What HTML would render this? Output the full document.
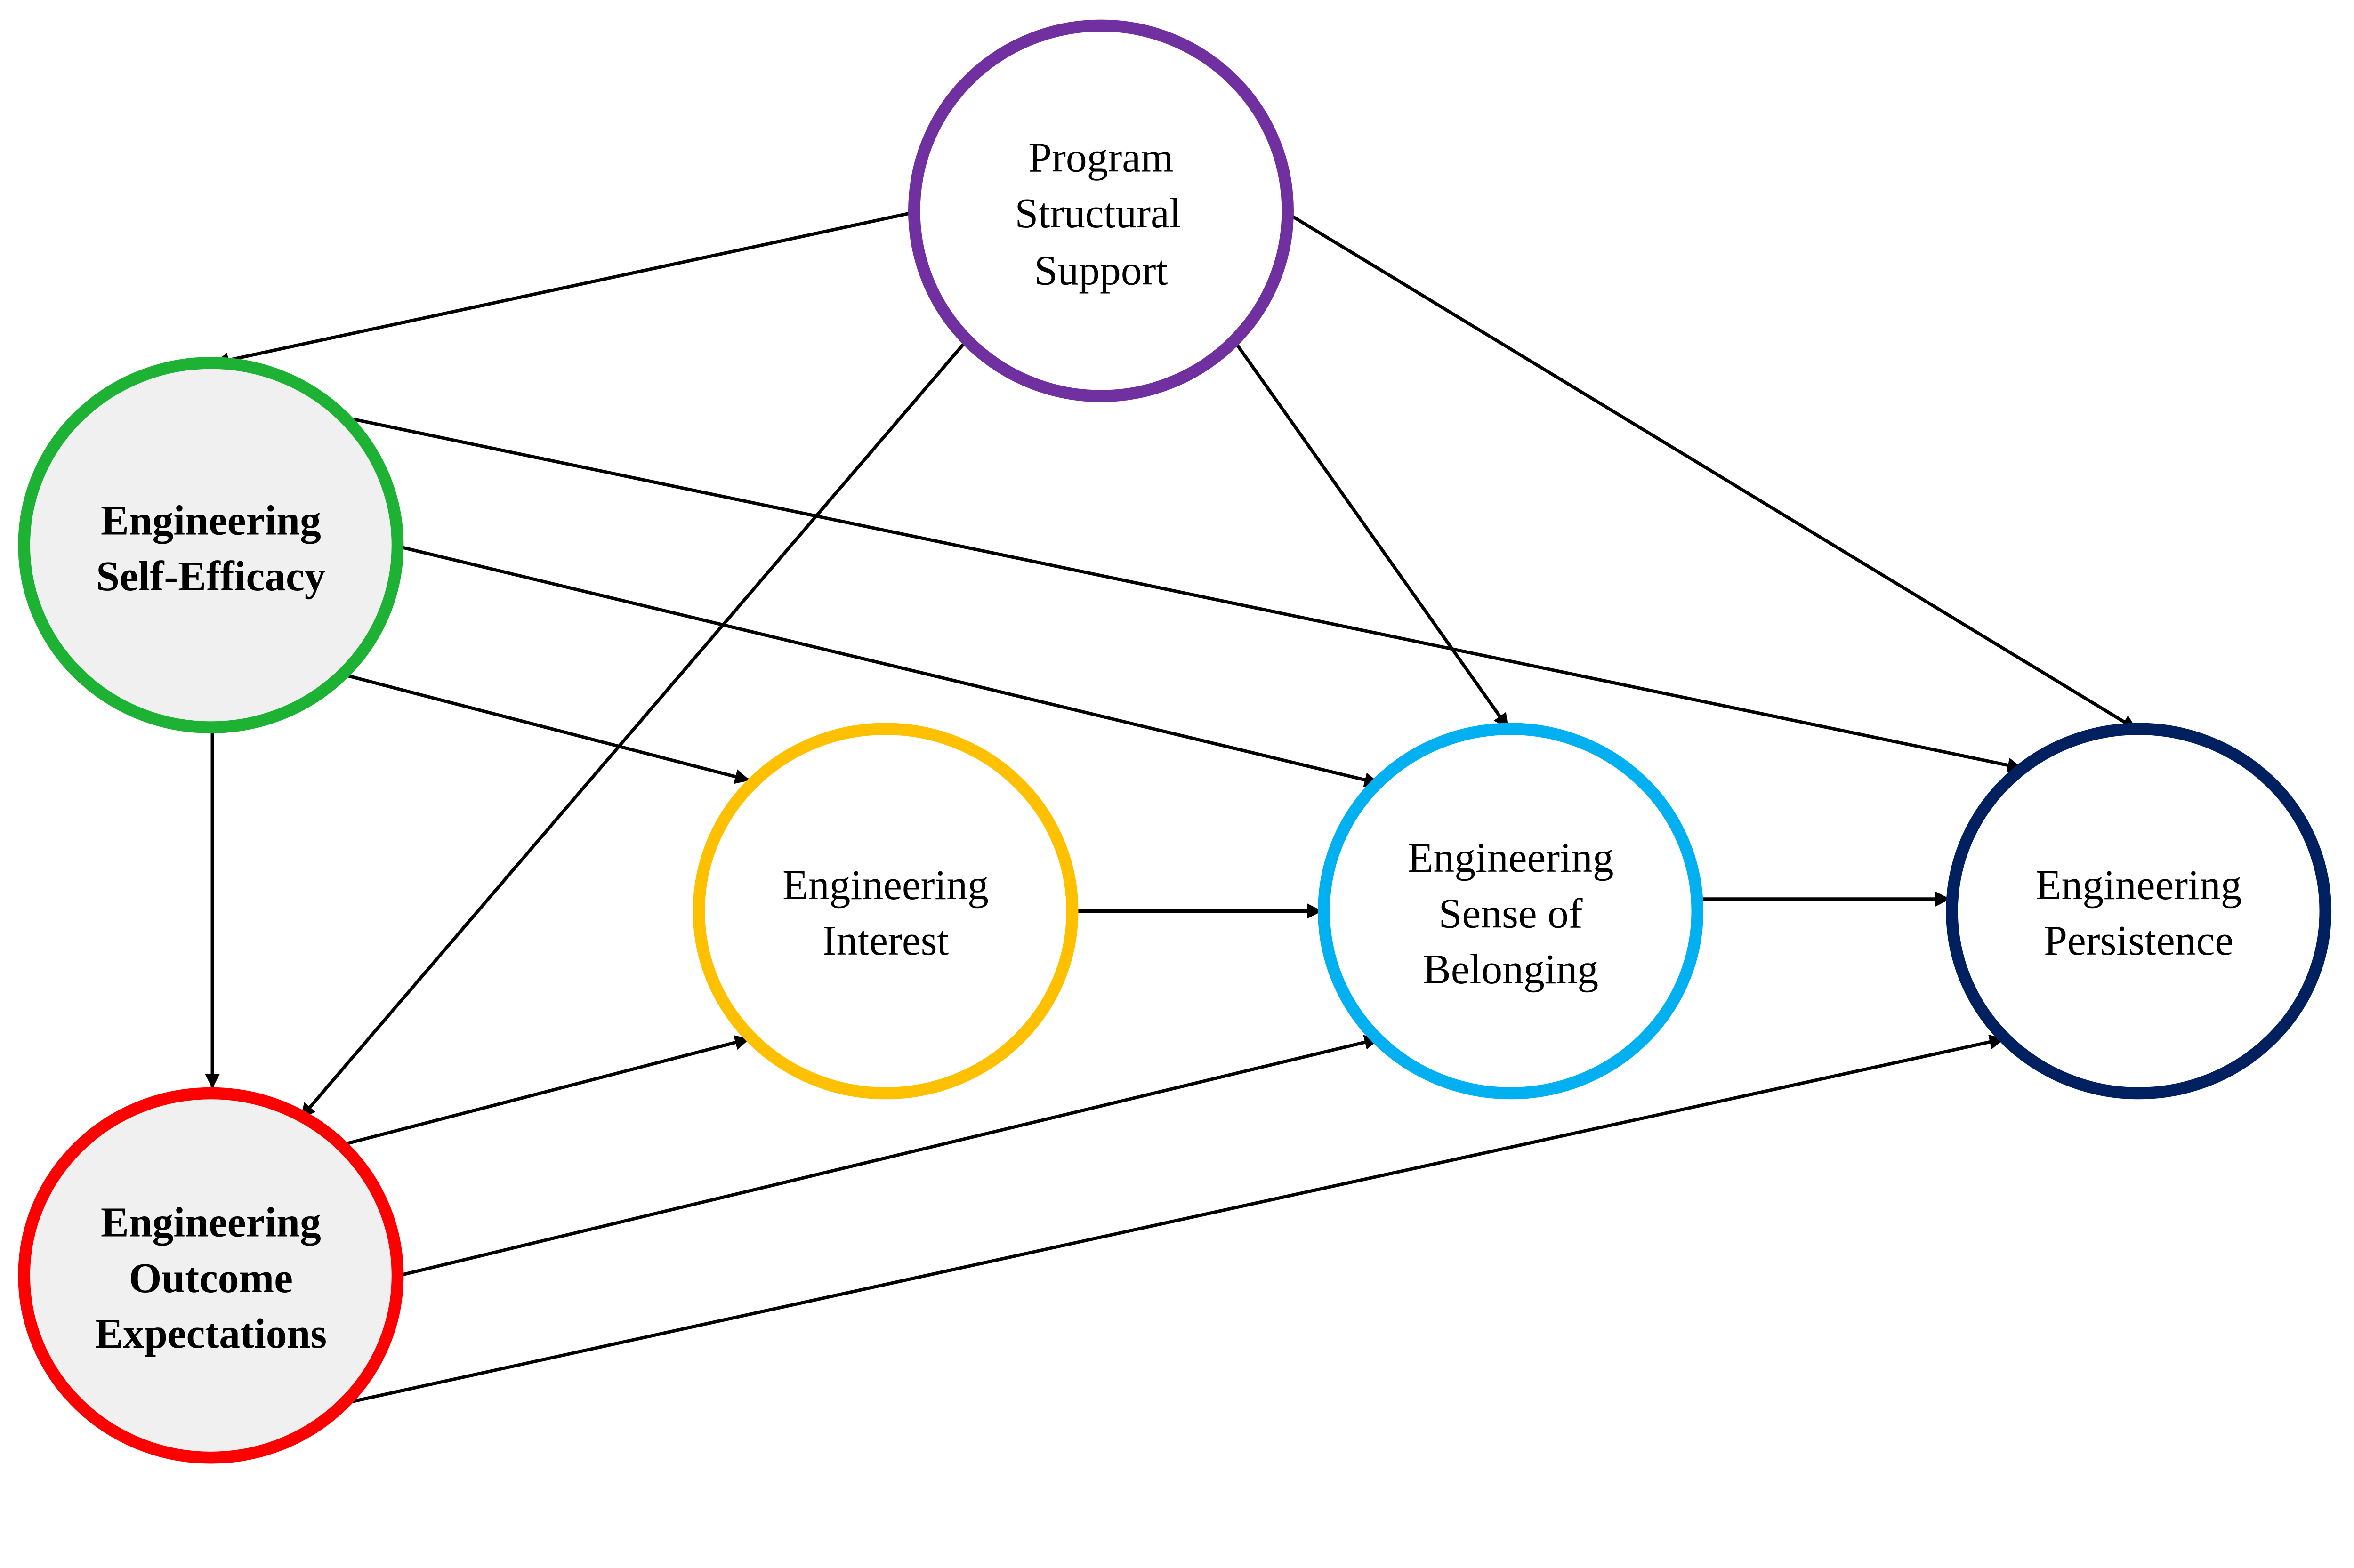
<!DOCTYPE html>
<html><head><meta charset="utf-8"><style>html,body{margin:0;padding:0;background:#fff;overflow:hidden}svg{display:block}</style></head>
<body>
<svg width="5336" height="3331" viewBox="0 0 1668 1041" preserveAspectRatio="xMinYMin meet" xmlns="http://www.w3.org/2000/svg">
<defs><marker id="a" markerWidth="10" markerHeight="10" refX="9" refY="5" orient="auto" markerUnits="userSpaceOnUse" viewBox="0 0 10 10"><path d="M0,0 L10,5 L0,10 z" fill="#000"/></marker>
<style>text{font-family:"Liberation Serif",serif;font-size:28px;text-anchor:middle}</style></defs>
<g stroke="#000" stroke-width="2.2" marker-end="url(#a)" fill="none">
<line x1="607" y1="141" x2="143" y2="241"/>
<line x1="641" y1="227" x2="200" y2="742"/>
<line x1="820" y1="227" x2="1001" y2="483"/>
<line x1="857" y1="143" x2="1418" y2="484"/>
<line x1="228" y1="277" x2="1342" y2="510"/>
<line x1="265" y1="363" x2="915" y2="520"/>
<line x1="228" y1="448" x2="497" y2="518"/>
<line x1="141" y1="485" x2="141" y2="722"/>
<line x1="713" y1="605" x2="877" y2="605"/>
<line x1="1127" y1="597" x2="1294" y2="597"/>
<line x1="228" y1="760" x2="497" y2="690"/>
<line x1="265" y1="847" x2="915" y2="690"/>
<line x1="228" y1="932" x2="1330" y2="690"/>
</g>
<g stroke-width="8">
<ellipse cx="731" cy="140" rx="124" ry="123" fill="#fff" stroke="#7030A0"/>
<ellipse cx="140" cy="362" rx="124" ry="121" fill="#f0f0f0" stroke="#1DB233"/>
<ellipse cx="140" cy="847" rx="124" ry="121" fill="#f0f0f0" stroke="#FF0000"/>
<ellipse cx="588" cy="605" rx="124" ry="121" fill="#fff" stroke="#FFC000"/>
<ellipse cx="1003" cy="605" rx="124" ry="121" fill="#fff" stroke="#00B0F0"/>
<ellipse cx="1420" cy="605" rx="124" ry="121" fill="#fff" stroke="#002060"/>
</g>
<text x="731" y="114">Program</text><text x="729" y="151">Structural</text><text x="731" y="189">Support</text>
<text x="140" y="355" font-weight="bold">Engineering</text><text x="140" y="392" font-weight="bold">Self-Efficacy</text>
<text x="140" y="821" font-weight="bold">Engineering</text><text x="140" y="858" font-weight="bold">Outcome</text><text x="140" y="895" font-weight="bold">Expectations</text>
<text x="588" y="597">Engineering</text><text x="588" y="634">Interest</text>
<text x="1003" y="579">Engineering</text><text x="1003" y="616">Sense of</text><text x="1003" y="653">Belonging</text>
<text x="1420" y="597">Engineering</text><text x="1420" y="634">Persistence</text>
</svg>
</body></html>
